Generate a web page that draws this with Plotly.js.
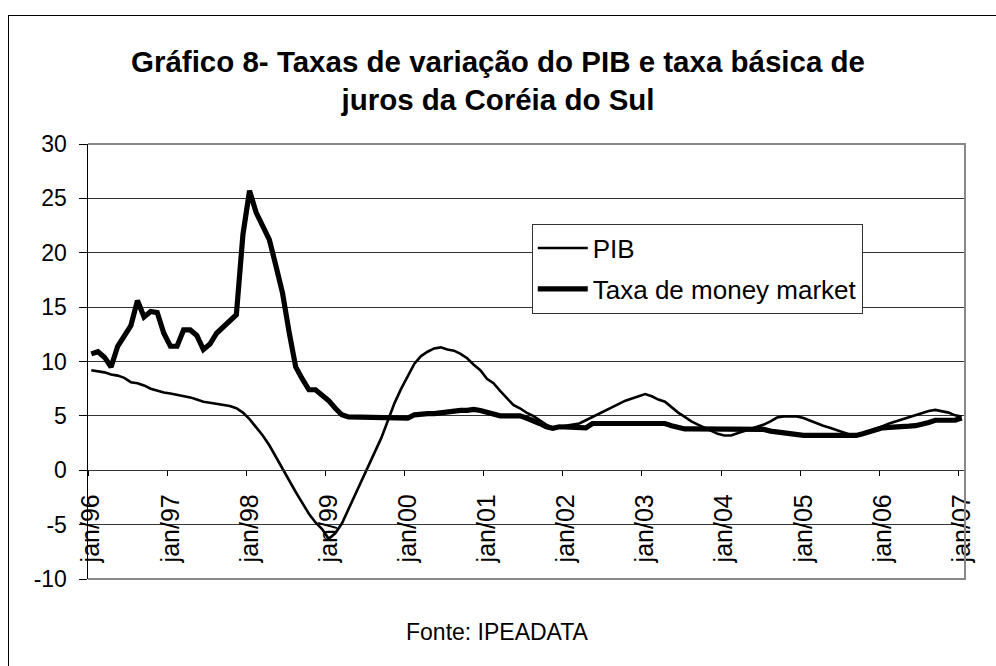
<!DOCTYPE html>
<html>
<head>
<meta charset="utf-8">
<script src="https://cdn.plot.ly/plotly-3.0.1.min.js"></script>
<style>
  html, body { margin: 0; padding: 0; background: #fff; overflow: hidden; width: 996px; height: 666px; }
  #chart { width: 996px; height: 666px; }
  #frame { position: absolute; left: 8px; top: 15px; width: 1200px; height: 900px; border: 1px solid #000; pointer-events: none; }
</style>
</head>
<body>
<div id="chart"></div>
<div id="frame"></div>
<script>
// Month abbreviations (Portuguese) and years: Jan 1996 .. Jan 2007
const monthNames = ['jan','fev','mar','abr','mai','jun','jul','ago','set','out','nov','dez'];
const years = ['96','97','98','99','00','01','02','03','04','05','06','07'];

// Y-axis tick values and labels
const yTickVals = [-10, -5, 0, 5, 10, 15, 20, 25, 30];
const yTickText = ['-10', '-5', '0', '5', '10', '15', '20', '25', '30'];

// PIB growth rate (%), monthly
const pib = [
  9.2, 9.1, 9.0, 8.8, 8.7, 8.5, 8.1, 8.0, 7.8, 7.5, 7.3, 7.15,
  7.05, 6.95, 6.85, 6.7, 6.5, 6.3, 6.2, 6.1, 6.0, 5.9, 5.7, 5.3,
  4.7, 4.0, 3.2, 2.3, 1.2, 0.1, -1.0, -2.0, -3.0, -4.0, -4.8, -5.4,
  -6.3, -5.8, -4.9, -3.6, -2.3, -1.0, 0.3, 1.7, 3.0, 4.6, 6.2, 7.5,
  8.6, 9.8, 10.5, 10.9, 11.2, 11.3, 11.1, 11.0, 10.7, 10.3, 9.7, 9.2,
  8.4, 8.0, 7.3, 6.6, 6.0, 5.7, 5.3, 5.0, 4.6, 4.2, 3.9, 4.0,
  4.1, 4.15, 4.3, 4.6, 4.9, 5.2, 5.5, 5.8, 6.1, 6.4, 6.6, 6.8,
  7.0, 6.8, 6.5, 6.3, 5.8, 5.3, 4.9, 4.5, 4.2, 3.9, 3.6, 3.35,
  3.2, 3.2, 3.4, 3.6, 3.8, 4.0, 4.2, 4.5, 4.85, 4.95, 4.95, 4.95,
  4.8, 4.55, 4.35, 4.1, 3.9, 3.7, 3.5, 3.3, 3.2, 3.4, 3.65, 3.85,
  4.05, 4.3, 4.5, 4.7, 4.9, 5.1, 5.3, 5.45, 5.55, 5.4, 5.3, 5.05,
  4.95
];

// Taxa de money market (%), monthly
const moneyMarket = [
  10.7, 10.9, 10.4, 9.5, 11.4, 12.3, 13.3, 15.6, 14.1, 14.6, 14.5, 12.6,
  11.4, 11.4, 12.9, 12.9, 12.4, 11.1, 11.6, 12.6, 13.2, 13.7, 14.3, 21.7,
  25.7, 23.7, 22.5, 21.2, 18.8, 16.3, 12.7, 9.5, 8.4, 7.4, 7.4, 6.9,
  6.4, 5.7, 5.1, 4.9, 4.9, 4.9, 4.8, 4.8, 4.8, 4.8, 4.8, 4.8,
  4.8, 5.1, 5.2, 5.2, 5.2, 5.3, 5.4, 5.4, 5.5, 5.5, 5.6, 5.5,
  5.3, 5.1, 5.0, 5.0, 5.0, 5.0, 4.8, 4.6, 4.3, 4.0, 3.85, 4.0,
  4.0, 4.0, 4.0, 3.9, 4.3, 4.3, 4.3, 4.3, 4.3, 4.3, 4.3, 4.3,
  4.3, 4.3, 4.3, 4.3, 4.1, 3.9, 3.8, 3.8, 3.8, 3.8, 3.8, 3.8,
  3.8, 3.8, 3.8, 3.8, 3.8, 3.8, 3.75, 3.6, 3.5, 3.45, 3.35, 3.2,
  3.2, 3.2, 3.2, 3.2, 3.2, 3.2, 3.2, 3.2, 3.2, 3.35, 3.55, 3.7,
  3.9, 3.95, 3.95, 4.0, 4.05, 4.1, 4.2, 4.4, 4.6, 4.6, 4.6, 4.6,
  4.8
];

// Category labels built from the month/year arrays
const categories = [];
for (let i = 0; i < pib.length; i++) {
  categories.push(monthNames[i % 12] + '/' + years[Math.floor(i / 12)]);
}

const FONT = 'Liberation Sans, Arial, sans-serif';

const traces = [
  {
    x: categories, y: pib, type: 'scatter', mode: 'lines', name: 'PIB',
    line: { color: '#000', width: 2.6 }, legendgroup: 'a'
  },
  {
    x: categories, y: moneyMarket, type: 'scatter', mode: 'lines', name: 'Taxa de money market',
    line: { color: '#000', width: 5.2 }, legendgroup: 'b'
  }
];

const layout = {
  width: 996, height: 666,
  paper_bgcolor: '#fff', plot_bgcolor: '#fff',
  margin: { l: 88, r: 31, t: 144, b: 87 },
  font: { family: FONT, color: '#000' },
  title: {
    text: '<b>Gráfico 8- Taxas de variação do PIB e taxa básica de<br>juros da Coréia do Sul</b>',
    font: { family: FONT, size: 29.5, color: '#000' },
    x: 0.5, xref: 'container', xanchor: 'center',
    y: 0.892, yref: 'container', yanchor: 'top'
  },
  xaxis: {
    type: 'category',
    categoryorder: 'array', categoryarray: categories,
    range: [-0.5, categories.length - 0.5],
    tickmode: 'linear', tick0: 0, dtick: 12,
    tickson: 'boundaries',
    ticks: 'outside', ticklen: 5, tickcolor: '#000', tickwidth: 1,
    tickangle: -90,
    tickfont: { family: FONT, size: 25, color: '#000' },
    ticklabelstandoff: 13,
    showgrid: false, zeroline: false,
    showline: true, linecolor: '#333', linewidth: 1,
    anchor: 'free', position: 0.25,
    fixedrange: true
  },
  yaxis: {
    range: [-10, 30],
    tickmode: 'array', tickvals: yTickVals, ticktext: yTickText,
    ticks: 'outside', ticklen: 8, tickcolor: '#000', tickwidth: 1,
    tickfont: { family: FONT, size: 23, color: '#000' },
    ticklabelstandoff: 7,
    showgrid: true, gridcolor: '#333', gridwidth: 1,
    zeroline: false,
    showline: true, linecolor: '#000', linewidth: 1.5,
    fixedrange: true
  },
  showlegend: true,
  legend: {
    x: 0.506, y: 0.817, xanchor: 'left', yanchor: 'top',
    bgcolor: '#fff', bordercolor: '#333', borderwidth: 1,
    font: { family: FONT, size: 26, color: '#000' },
    tracegroupgap: 4, itemwidth: 50
  },
  shapes: [
    {
      type: 'path', xref: 'paper', yref: 'paper',
      path: 'M 0 1 L 1 1 L 1 0 L 0 0',
      line: { color: '#888', width: 2 }, layer: 'above'
    }
  ],
  annotations: [
    {
      text: 'Fonte: IPEADATA', xref: 'paper', yref: 'paper',
      x: 0.4675, y: -0.122, xanchor: 'center', yanchor: 'middle',
      showarrow: false, font: { family: FONT, size: 23, color: '#000' }
    }
  ]
};

Plotly.newPlot('chart', traces, layout, { displayModeBar: false, staticPlot: true });
</script>
</body>
</html>
